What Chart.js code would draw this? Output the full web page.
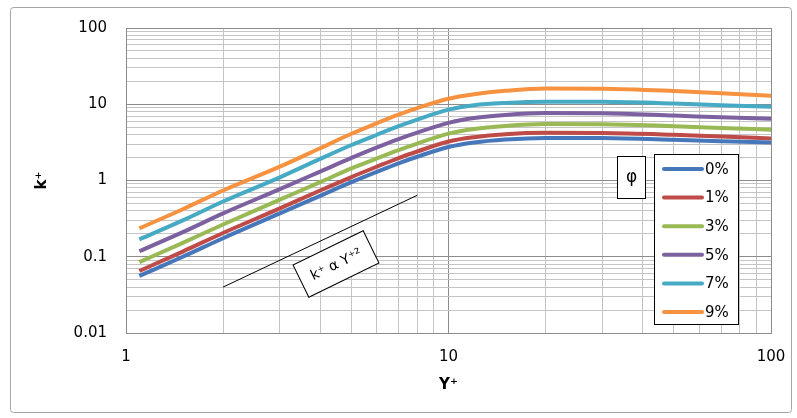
<!DOCTYPE html>
<html>
<head>
<meta charset="utf-8">
<script src="https://cdn.jsdelivr.net/npm/chart.js@4.4.1/dist/chart.umd.min.js"></script>
<style>
html, body { margin: 0; padding: 0; background: #fff; }
</style>
</head>
<body>
<canvas id="chart" width="797" height="418"></canvas>
<script>
const yPlus = [1.1, 1.5, 2, 3, 4, 5, 6, 7, 8, 10, 12, 15, 20, 30, 50, 70, 100];

// k+ for each phi
const k0 = [0.056, 0.10, 0.175, 0.37, 0.63, 0.95, 1.3, 1.68, 2.05, 2.75, 3.15, 3.45, 3.62, 3.6, 3.42, 3.28, 3.14];
const k1 = [0.065, 0.117, 0.205, 0.43, 0.74, 1.11, 1.52, 1.97, 2.4, 3.25, 3.7, 4.05, 4.22, 4.2, 3.98, 3.78, 3.55];
const k3 = [0.085, 0.152, 0.265, 0.56, 0.95, 1.44, 1.95, 2.5, 3.05, 4.12, 4.75, 5.2, 5.5, 5.48, 5.15, 4.88, 4.64];
const k5 = [0.118, 0.21, 0.37, 0.77, 1.31, 1.98, 2.72, 3.5, 4.25, 5.7, 6.6, 7.25, 7.65, 7.6, 7.1, 6.75, 6.45];
const k7 = [0.169, 0.30, 0.53, 1.1, 1.92, 2.92, 3.98, 5.15, 6.3, 8.5, 9.7, 10.4, 10.8, 10.75, 10.2, 9.7, 9.25];
const k9 = [0.236, 0.42, 0.74, 1.52, 2.65, 4.1, 5.65, 7.3, 8.9, 11.8, 13.5, 15.0, 16.1, 16.0, 14.9, 13.9, 12.9];

const phiLabels = ['0%', '1%', '3%', '5%', '7%', '9%'];
const colors = ['#4677BA', '#BE4B48', '#98B954', '#7D60A0', '#46AAC5', '#F69240'];

// reference line k+ ~ Y+^2
const slopeX = [2, 8];
const slopeK = [0.04, 0.64];

const xTicks = [1, 2, 3, 4, 5, 6, 7, 8, 9, 10, 20, 30, 40, 50, 60, 70, 80, 90, 100];
const yTicks = [];
for (let e = -2; e <= 1; e++) {
    for (let s = 1; s <= 9; s++) yTicks.push(Number((s * Math.pow(10, e)).toPrecision(2)));
}
yTicks.push(100);

const FONT = 'DejaVu Sans';

function isDecade(v) {
    const l = Math.log10(v);
    return Math.abs(l - Math.round(l)) < 1e-9;
}

const series = [k0, k1, k3, k5, k7, k9];
const datasets = series.map((k, i) => ({
    label: phiLabels[i],
    data: yPlus.map((x, j) => ({ x: x, y: k[j] })),
    borderColor: colors[i],
    backgroundColor: colors[i],
    borderWidth: 4,
    pointRadius: 0,
    cubicInterpolationMode: 'monotone',
    fill: false
}));
datasets.push({
    label: 'slope',
    data: slopeX.map((x, j) => ({ x: x, y: slopeK[j] })),
    borderColor: '#000',
    borderWidth: 1,
    pointRadius: 0,
    fill: false
});

const extras = {
    id: 'extras',
    beforeDraw(chart) {
        const c = chart.ctx;
        c.save();
        c.fillStyle = '#fff';
        c.fillRect(0, 0, chart.width, chart.height);
        c.strokeStyle = '#a6a6a6';
        c.lineWidth = 1;
        c.beginPath();
        c.roundRect(10.5, 7.5, 781, 405, 3);
        c.stroke();
        c.restore();
    },
    afterDraw(chart) {
        const c = chart.ctx;
        c.save();

        // phi box
        c.fillStyle = '#fff';
        c.fillRect(617.5, 156.5, 28, 42);
        c.strokeStyle = '#000';
        c.lineWidth = 1;
        c.strokeRect(617.5, 156.5, 28, 42);
        c.fillStyle = '#000';
        c.font = '17px ' + FONT;
        c.textAlign = 'center';
        c.textBaseline = 'middle';
        c.fillText('φ', 631.5, 178);

        // legend
        c.fillStyle = '#fff';
        c.fillRect(654.5, 154.5, 84, 170);
        c.strokeRect(654.5, 154.5, 84, 170);
        c.font = '15px ' + FONT;
        c.textAlign = 'left';
        for (let i = 0; i < phiLabels.length; i++) {
            const y = 169 + i * 28.6;
            c.strokeStyle = colors[i];
            c.lineWidth = 4;
            c.lineCap = 'round';
            c.beginPath();
            c.moveTo(664, y);
            c.lineTo(702, y);
            c.stroke();
            c.fillStyle = '#000';
            c.fillText(phiLabels[i], 705, y + 1);
        }

        // slope annotation box
        c.translate(336, 264);
        c.rotate(-26 * Math.PI / 180);
        c.fillStyle = '#fff';
        c.fillRect(-39, -18, 78, 36);
        c.strokeStyle = '#000';
        c.lineWidth = 1;
        c.strokeRect(-39, -18, 78, 36);
        c.fillStyle = '#000';
        c.font = '14px ' + FONT;
        c.textAlign = 'center';
        c.textBaseline = 'middle';
        c.fillText('k⁺ α Y⁺²', 0, 1);
        c.restore();
    }
};

new Chart(document.getElementById('chart'), {
    type: 'line',
    data: { datasets: datasets },
    options: {
        responsive: false,
        animation: false,
        layout: { padding: { left: 0, top: 27, right: 26, bottom: 0 } },
        plugins: { legend: { display: false }, tooltip: { enabled: false } },
        scales: {
            x: {
                type: 'logarithmic',
                min: 1,
                max: 100,
                afterBuildTicks: s => { s.ticks = xTicks.map(v => ({ value: v })); },
                afterFit: s => {
                    s.height = 85;
                    s.paddingLeft = 0;
                    s.paddingRight = 0;
                },
                ticks: {
                    autoSkip: false,
                    maxRotation: 0,
                    padding: 15,
                    color: '#000',
                    font: { family: FONT, size: 15 },
                    callback: v => isDecade(v) ? String(v) : ''
                },
                grid: {
                    drawTicks: false,
                    color: ctx => isDecade(ctx.tick.value) ? '#8c8c8c' : '#c4c4c4'
                },
                border: { color: '#8c8c8c' },
                title: {
                    display: true,
                    text: 'Y⁺',
                    color: '#000',
                    font: { family: FONT, size: 15, weight: 'bold' },
                    padding: { top: 0, bottom: 24 }
                }
            },
            y: {
                type: 'logarithmic',
                min: 0.01,
                max: 100,
                afterBuildTicks: s => { s.ticks = yTicks.map(v => ({ value: v })); },
                afterFit: s => { s.width = 126; },
                ticks: {
                    autoSkip: false,
                    padding: 19,
                    color: '#000',
                    font: { family: FONT, size: 15 },
                    callback: v => isDecade(v) ? String(Number(v.toPrecision(1))) : ''
                },
                grid: {
                    drawTicks: false,
                    color: ctx => isDecade(ctx.tick.value) ? '#8c8c8c' : '#c4c4c4'
                },
                border: { color: '#8c8c8c' },
                title: {
                    display: true,
                    text: 'k⁺',
                    color: '#000',
                    font: { family: FONT, size: 15, weight: 'bold' },
                    padding: { top: 33, bottom: 0 }
                }
            }
        }
    },
    plugins: [extras]
});
</script>
</body>
</html>
